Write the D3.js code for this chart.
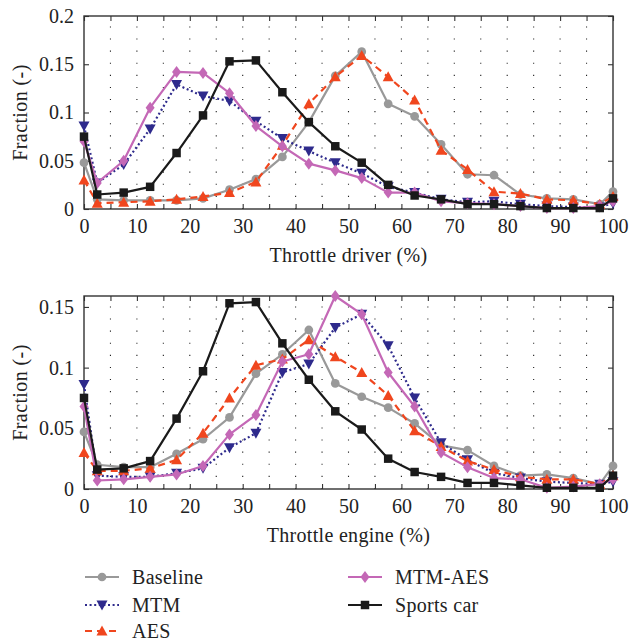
<!DOCTYPE html>
<html>
<head>
<meta charset="utf-8">
<script src="https://d3js.org/d3.v7.min.js"></script>
<style>
  html, body { margin: 0; padding: 0; background: #fff; }
  svg { display: block; }
  svg text { font-family: "Liberation Serif", "Times New Roman", "DejaVu Serif", serif; fill: #222; }
</style>
</head>
<body>
<svg id="chart" width="629" height="644"></svg>
<script>
// ---- data ----
const throttle = [0, 2.5, 7.5, 12.5, 17.5, 22.5, 27.5, 32.5, 37.5, 42.5, 47.5, 52.5, 57.5, 62.5, 67.5, 72.5, 77.5, 82.5, 87.5, 92.5, 97.5, 100];

const seriesNames = ["Baseline", "MTM", "AES", "MTM-AES", "Sports car"];

// Throttle driver
const driverBaseline = [0.048, 0.010, 0.009, 0.009, 0.009, 0.011, 0.020, 0.031, 0.054, 0.090, 0.138, 0.163, 0.109, 0.096, 0.067, 0.036, 0.035, 0.015, 0.011, 0.010, 0.005, 0.018];
const driverMTM      = [0.086, 0.027, 0.046, 0.083, 0.129, 0.117, 0.112, 0.091, 0.073, 0.060, 0.048, 0.037, 0.023, 0.017, 0.010, 0.007, 0.008, 0.005, 0.003, 0.002, 0.002, 0.006];
const driverAES      = [0.030, 0.006, 0.007, 0.008, 0.010, 0.013, 0.017, 0.028, 0.066, 0.109, 0.137, 0.159, 0.137, 0.113, 0.061, 0.041, 0.018, 0.016, 0.010, 0.009, 0.005, 0.013];
const driverMTMAES   = [0.070, 0.027, 0.050, 0.105, 0.142, 0.141, 0.120, 0.086, 0.065, 0.047, 0.040, 0.032, 0.017, 0.017, 0.008, 0.006, 0.005, 0.003, 0.001, 0.001, 0.003, 0.008];
const driverSports   = [0.075, 0.015, 0.017, 0.023, 0.058, 0.097, 0.153, 0.154, 0.121, 0.090, 0.065, 0.048, 0.025, 0.014, 0.010, 0.005, 0.005, 0.003, 0.001, 0.001, 0.001, 0.011];

// Throttle engine
const engineBaseline = [0.047, 0.020, 0.018, 0.018, 0.029, 0.041, 0.059, 0.095, 0.111, 0.131, 0.087, 0.076, 0.067, 0.054, 0.036, 0.032, 0.019, 0.011, 0.012, 0.009, 0.004, 0.019];
const engineMTM      = [0.086, 0.011, 0.010, 0.010, 0.013, 0.017, 0.034, 0.046, 0.096, 0.103, 0.133, 0.144, 0.118, 0.075, 0.038, 0.024, 0.013, 0.009, 0.006, 0.005, 0.004, 0.006];
const engineAES      = [0.030, 0.015, 0.015, 0.017, 0.024, 0.046, 0.075, 0.102, 0.107, 0.123, 0.109, 0.096, 0.077, 0.048, 0.035, 0.023, 0.016, 0.010, 0.008, 0.008, 0.004, 0.011];
const engineMTMAES   = [0.068, 0.007, 0.008, 0.010, 0.012, 0.019, 0.045, 0.061, 0.105, 0.111, 0.159, 0.144, 0.096, 0.068, 0.030, 0.018, 0.009, 0.008, 0.001, 0.002, 0.004, 0.008];
const engineSports   = [0.075, 0.016, 0.017, 0.023, 0.058, 0.097, 0.153, 0.154, 0.120, 0.090, 0.064, 0.049, 0.025, 0.014, 0.010, 0.005, 0.005, 0.003, 0.001, 0.001, 0.001, 0.011];

const xTicks = [0, 5, 10, 15, 20, 25, 30, 35, 40, 45, 50, 55, 60, 65, 70, 75, 80, 85, 90, 95, 100];
const driverYTicks = [0, 0.05, 0.1, 0.15, 0.2];
const engineYTicks = [0, 0.05, 0.1, 0.15];

// ---- styles ----
const styles = {
  "Baseline":   { color: "#999999", dash: null,   marker: "circle" },
  "MTM":        { color: "#2e2a8c", dash: "2,2.6", marker: "down" },
  "AES":        { color: "#f0461e", dash: "7,5",  marker: "up" },
  "MTM-AES":    { color: "#c468b6", dash: null,   marker: "diamond" },
  "Sports car": { color: "#1a1a1a", dash: null,   marker: "square" }
};

const svg = d3.select("#chart");
const FS = 20;
const FF = '"Liberation Serif", "Times New Roman", serif';

function markerPath(type) {
  switch (type) {
    case "circle":  return d3.symbol(d3.symbolCircle, 60)();
    case "square":  return d3.symbol(d3.symbolSquare, 72)();
    case "diamond": return "M0,-6L4.5,0L0,6L-4.5,0Z";
    case "up":      return "M0,-5.5L5.5,4.5L-5.5,4.5Z";
    case "down":    return "M0,5.5L5.5,-4.5L-5.5,-4.5Z";
  }
}

function drawPanel(top, bottom, yMax, yTicks, data, xlabel) {
  const x = d3.scaleLinear().domain([0, 100]).range([84, 613]);
  const y = d3.scaleLinear().domain([0, yMax]).range([bottom, top]);
  const g = svg.append("g");

  // grid (vertical dotted)
  g.append("g").selectAll("line").data(xTicks.filter(d => d > 0 && d < 100)).join("line")
    .attr("x1", d => x(d)).attr("x2", d => x(d))
    .attr("y1", bottom).attr("y2", top)
    .attr("stroke", "#222").attr("stroke-width", 1.1)
    .attr("stroke-dasharray", "1.1,11");

  // axes
  const fmtX = d => (d % 10 === 0 ? d : "");
  const ax = g.append("g").attr("transform", `translate(0,${bottom})`)
    .call(d3.axisBottom(x).tickValues(xTicks).tickSize(-5).tickPadding(10).tickFormat(fmtX));
  const axTop = g.append("g").attr("transform", `translate(0,${top})`)
    .call(d3.axisTop(x).tickValues(xTicks).tickSize(-5).tickFormat(""));
  const fmtY = d => (d === 0 ? "0" : String(+d.toFixed(2)));
  const ay = g.append("g").attr("transform", `translate(84,0)`)
    .call(d3.axisLeft(y).tickValues(yTicks).tickSize(-5).tickPadding(10).tickFormat(fmtY));
  const ayR = g.append("g").attr("transform", `translate(613,0)`)
    .call(d3.axisRight(y).tickValues(yTicks).tickSize(-5).tickFormat(""));
  [ax, axTop, ay, ayR].forEach(a => {
    a.attr("font-family", FF).attr("font-size", FS);
    a.select(".domain").remove();
    a.selectAll(".tick line").attr("stroke", "#333").attr("stroke-width", 1.1);
    a.selectAll("text").attr("fill", "#222");
  });
  g.append("rect").attr("x", 84).attr("y", top).attr("width", 613 - 84).attr("height", bottom - top)
    .attr("fill", "none").attr("stroke", "#333").attr("stroke-width", 1.4);

  // series
  const line = d3.line().x((d, i) => x(throttle[i])).y(d => y(d));
  seriesNames.forEach((name, k) => {
    const st = styles[name];
    const vals = data[k];
    g.append("path").attr("d", line(vals))
      .attr("fill", "none").attr("stroke", st.color).attr("stroke-width", 2.2)
      .attr("stroke-dasharray", st.dash).attr("stroke-linejoin", "round");
    g.append("g").selectAll("path").data(vals).join("path")
      .attr("d", markerPath(st.marker))
      .attr("transform", (d, i) => `translate(${x(throttle[i])},${y(d)})`)
      .attr("fill", st.color);
  });

  // labels
  svg.append("text").attr("x", 348.5).attr("y", bottom + 53)
    .attr("text-anchor", "middle").attr("font-size", FS).attr("font-family", FF)
    .attr("letter-spacing", 0.3).text(xlabel);
  svg.append("text").attr("transform", `translate(27,${(top + bottom) / 2}) rotate(-90)`)
    .attr("text-anchor", "middle").attr("font-size", FS).attr("font-family", FF)
    .attr("letter-spacing", 0.4).text("Fraction (-)");
}

drawPanel(16, 209, 0.2, driverYTicks,
  [driverBaseline, driverMTM, driverAES, driverMTMAES, driverSports], "Throttle driver (%)");
drawPanel(296, 489, 0.159, engineYTicks,
  [engineBaseline, engineMTM, engineAES, engineMTMAES, engineSports], "Throttle engine (%)");

// legend
const legendPos = [
  { name: "Baseline",   x: 85,  y: 577 },
  { name: "MTM",        x: 85,  y: 605 },
  { name: "AES",        x: 85,  y: 631 },
  { name: "MTM-AES",    x: 348, y: 577 },
  { name: "Sports car", x: 348, y: 605 }
];
const lg = svg.append("g");
legendPos.forEach(p => {
  const st = styles[p.name];
  lg.append("line").attr("x1", p.x).attr("x2", p.x + 34).attr("y1", p.y).attr("y2", p.y)
    .attr("stroke", st.color).attr("stroke-width", 2.2).attr("stroke-dasharray", st.dash);
  lg.append("path").attr("d", markerPath(st.marker))
    .attr("transform", `translate(${p.x + 17},${p.y})`).attr("fill", st.color);
  lg.append("text").attr("x", p.x + 47).attr("y", p.y).attr("dy", "0.35em")
    .attr("font-size", FS).attr("font-family", FF).attr("letter-spacing", 0.3).text(p.name);
});
</script>
</body>
</html>
